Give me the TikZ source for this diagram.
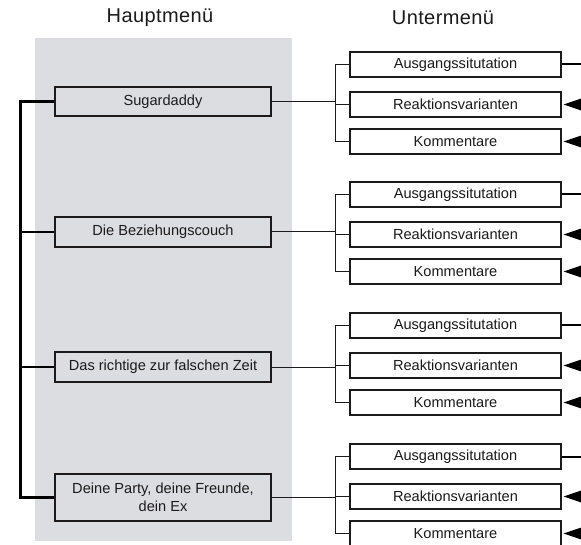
\documentclass[tikz,border=0pt]{standalone}
\usepackage{fontspec}
\setmainfont{Liberation Sans}
\usetikzlibrary{arrows.meta}
\definecolor{panel}{RGB}{220,221,224}
\definecolor{ink}{RGB}{28,26,27}
\begin{document}
\begin{tikzpicture}[x=1pt,y=-1pt,
  txt/.style={text=ink,font=\fontsize{14.6}{18}\selectfont},
  titlebox/.style={text=ink,font=\fontsize{20}{23}\selectfont\addfontfeatures{LetterSpace=2}},
  mainbox/.style={txt,draw=ink,line width=2.6pt,fill=panel,minimum width=216pt,minimum height=29pt,inner sep=0pt,align=center},
  subbox/.style={txt,draw=ink,line width=1.2pt,fill=white,minimum width=211pt,minimum height=25pt,inner sep=0pt},
  thinline/.style={draw=ink,line width=1pt},
  spineline/.style={draw=black,line width=2.5pt},
  outline/.style={draw=black,line width=2pt},
  arrowline/.style={draw=black,line width=1pt,-{Triangle[length=18pt,width=12pt]},shorten >=2pt}]
\useasboundingbox (0,0) rectangle (581,545);
\clip (0,0) rectangle (581,545);
\fill[panel] (35,38) rectangle (292,541);
\node[titlebox] (t1) at (160,18) {Hauptmenü};
\node[titlebox] (t2) at (443,18) {Untermenü};
\node[mainbox] (m1) at (163,101.5) {Sugardaddy};
\node[mainbox,minimum height=30pt] (m2) at (163,232) {Die Beziehungscouch};
\node[mainbox,minimum height=30pt] (m3) at (163,367) {Das richtige zur falschen Zeit};
\node[mainbox,minimum height=47pt] (m4) at (163,497.5) {Deine Party, deine Freunde,\\dein Ex};
\coordinate (spine) at (20.7,0);
\coordinate (edge) at (581,0);
\draw[spineline] (m1.west) -- (m1.west -| spine) -- (m4.west -| spine) -- (m4.west);
\draw[spineline] (m2.west) -- (m2.west -| spine);
\draw[spineline] (m3.west) -- (m3.west -| spine);
\foreach \g/\o/\m in {1/0/m1,2/130/m2,3/261/m3,4/392/m4}{
  \node[subbox] (a\g) at (455.5,64.5+\o) {Ausgangssitutation};
  \node[subbox] (r\g) at (455.5,104.5+\o) {Reaktionsvarianten};
  \node[subbox] (k\g) at (455.5,141.5+\o) {Kommentare};
  \coordinate (b\g) at (335,0);
  \draw[thinline] (\m.east) -- (\m.east -| b\g);
  \draw[thinline] (a\g.west) -- (a\g.west -| b\g) -- (k\g.west -| b\g) -- (k\g.west);
  \draw[thinline] (r\g.west) -- (r\g.west -| b\g);
  \draw[outline] (a\g.east) -- (a\g.east -| edge);
  \draw[arrowline] (r\g.east -| edge) -- (r\g.east);
  \draw[arrowline] (k\g.east -| edge) -- (k\g.east);
}
\end{tikzpicture}
\end{document}
